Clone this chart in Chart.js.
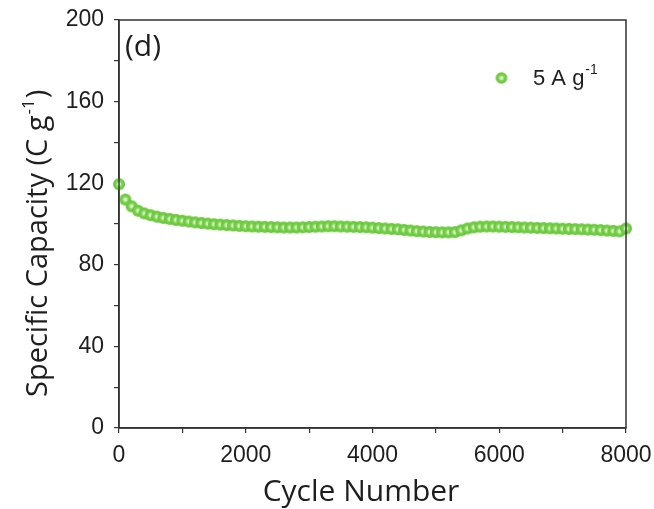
<!DOCTYPE html>
<html>
<head>
<meta charset="utf-8">
<script src="https://cdn.jsdelivr.net/npm/chart.js@4/dist/chart.umd.min.js"></script>
<style>
  html, body { margin: 0; padding: 0; background: #fff; }
</style>
</head>
<body>
<canvas id="capChart" width="654" height="509"></canvas>
<script>
// Data (cycling stability at 5 A/g)
const cycles = [
  0, 100, 200, 300, 400, 500, 600, 700, 800, 900,
  1000, 1100, 1200, 1300, 1400, 1500, 1600, 1700, 1800, 1900,
  2000, 2100, 2200, 2300, 2400, 2500, 2600, 2700, 2800, 2900,
  3000, 3100, 3200, 3300, 3400, 3500, 3600, 3700, 3800, 3900,
  4000, 4100, 4200, 4300, 4400, 4500, 4600, 4700, 4800, 4900,
  5000, 5100, 5200, 5300, 5400, 5500, 5600, 5700, 5800, 5900,
  6000, 6100, 6200, 6300, 6400, 6500, 6600, 6700, 6800, 6900,
  7000, 7100, 7200, 7300, 7400, 7500, 7600, 7700, 7800, 7900,
  8000
];
const capacity = [
  119.5, 112, 108.7, 106.5, 105.2, 104.3, 103.6, 103.0, 102.5, 102.0,
  101.6, 101.2, 100.8, 100.5, 100.2, 99.9, 99.7, 99.5, 99.3, 99.1,
  98.9, 98.8, 98.7, 98.6, 98.5, 98.4, 98.3, 98.3, 98.3, 98.4,
  98.5, 98.7, 98.8, 98.9, 98.9, 98.8, 98.7, 98.6, 98.5, 98.4,
  98.2, 98.0, 97.8, 97.6, 97.4, 97.1, 96.8, 96.5, 96.3, 96.1,
  96.0, 95.9, 95.9, 96.0, 96.9, 97.8, 98.4, 98.7, 98.8, 98.8,
  98.7, 98.6, 98.5, 98.4, 98.3, 98.2, 98.1, 98.0, 97.9, 97.8,
  97.7, 97.6, 97.5, 97.4, 97.3, 97.2, 97.0, 96.8, 96.6, 96.4,
  97.8
];
const xTicks = [0, 2000, 4000, 6000, 8000];
const yTicks = [0, 40, 80, 120, 160, 200];
const xTitle = 'Cycle Number';
const yTitleBase = 'Specific Capacity (C g';
const yTitleSup = '-1';
const yTitleEnd = ')';
const labelBase = '5 A g';
const labelSup = '-1';
const panelLabel = '(d)';

// small shaded sphere used as the marker
function makeMarker(r) {
  const c = document.createElement('canvas');
  const s = Math.ceil(r * 2 + 2);
  c.width = s; c.height = s;
  const g = c.getContext('2d');
  const grad = g.createRadialGradient(s / 2, s / 2, 0, s / 2, s / 2, r);
  grad.addColorStop(0, '#f4fcef');
  grad.addColorStop(0.28, '#c4ecaa');
  grad.addColorStop(0.5, '#7bd24e');
  grad.addColorStop(1, '#62c534');
  g.fillStyle = grad;
  g.beginPath();
  g.arc(s / 2, s / 2, r, 0, Math.PI * 2);
  g.fill();
  return c;
}
const marker = makeMarker(6);
const legendMarker = makeMarker(5.8);

const axisColor = '#333';
const textColor = '#1e1e1e';

// box around the plot, titles, panel label and legend
const framePlugin = {
  id: 'frame',
  afterDatasetsDraw(chart) {
    const { ctx, chartArea: a } = chart;
    ctx.save();
    ctx.strokeStyle = axisColor;
    ctx.lineWidth = 1.5;
    ctx.strokeRect(a.left, a.top, a.right - a.left, a.bottom - a.top);

    ctx.fillStyle = textColor;
    ctx.textAlign = 'left';

    // panel label
    ctx.font = '30px "Open Sans"';
    ctx.textBaseline = 'middle';
    ctx.fillText(panelLabel, a.left + 6, a.top + 27);

    // x title
    ctx.textBaseline = 'alphabetic';
    ctx.font = '30px "Open Sans"';
    const xw = ctx.measureText(xTitle).width;
    ctx.fillText(xTitle, 361 - xw / 2, 501);

    // y title, rotated, with superscript
    ctx.save();
    ctx.translate(47, 397);
    ctx.rotate(-Math.PI / 2);
    ctx.font = '29px "Open Sans"';
    ctx.fillText(yTitleBase, 0, 0);
    let off = ctx.measureText(yTitleBase).width + 1;
    ctx.font = '17px "Open Sans"';
    ctx.fillText(yTitleSup, off, -13);
    off += ctx.measureText(yTitleSup).width + 1;
    ctx.font = '29px "Open Sans"';
    ctx.fillText(yTitleEnd, off, 0);
    ctx.restore();

    // legend
    const lx = 501.5, ly = 78;
    ctx.drawImage(legendMarker, lx - legendMarker.width / 2, ly - legendMarker.height / 2);
    ctx.textBaseline = 'middle';
    ctx.font = '22px "Liberation Sans"';
    ctx.fillText(labelBase, 533, ly + 1);
    const w = ctx.measureText(labelBase).width;
    ctx.font = '14px "Liberation Sans"';
    ctx.fillText(labelSup, 534 + w, ly - 8);
    ctx.restore();
  }
};

new Chart(document.getElementById('capChart'), {
  type: 'scatter',
  data: {
    datasets: [{
      label: labelBase + '⁻¹',
      data: cycles.map((c, i) => ({ x: c, y: capacity[i] })),
      pointStyle: marker,
      pointRadius: 6,
      clip: false
    }]
  },
  options: {
    responsive: false,
    animation: false,
    layout: { padding: { left: 0, right: 28, top: 20, bottom: 0 } },
    plugins: { legend: { display: false }, tooltip: { enabled: false } },
    scales: {
      x: {
        type: 'linear',
        min: 0, max: 8000,
        afterFit(s) { s.height = 81; s.paddingLeft = 0; s.paddingRight = 0; },
        border: { color: axisColor, width: 1.5 },
        grid: { drawOnChartArea: false, color: axisColor, tickLength: 5, lineWidth: 1.2 },
        ticks: {
          stepSize: 1000,
          autoSkip: false,
          maxRotation: 0,
          padding: 9,
          color: textColor,
          font: { family: 'Liberation Sans', size: 23 },
          callback: v => xTicks.includes(v) ? String(v) : ''
        }
      },
      y: {
        min: 0, max: 200,
        afterFit(s) { s.width = 119; s.paddingTop = 0; s.paddingBottom = 0; },
        border: { color: axisColor, width: 1.5 },
        grid: { drawOnChartArea: false, color: axisColor, tickLength: 5, lineWidth: 1.2 },
        ticks: {
          stepSize: 20,
          autoSkip: false,
          padding: 10,
          color: textColor,
          font: { family: 'Liberation Sans', size: 23 },
          callback: v => yTicks.includes(v) ? String(v) : ''
        }
      }
    }
  },
  plugins: [framePlugin]
});
</script>
</body>
</html>
